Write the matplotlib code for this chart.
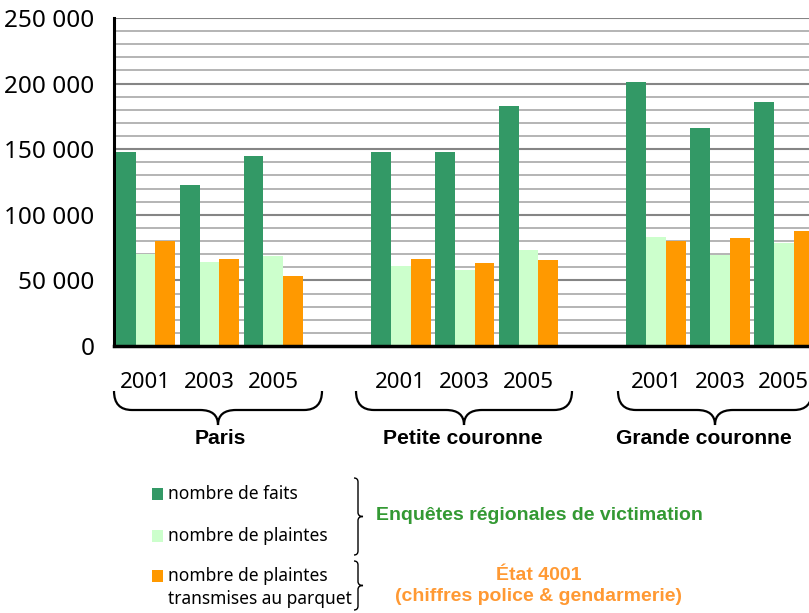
import matplotlib
matplotlib.use("Agg")
import matplotlib.pyplot as plt
from matplotlib.path import Path
from matplotlib.patches import PathPatch, Rectangle
from matplotlib.ticker import FuncFormatter, MultipleLocator
from matplotlib import transforms

# data
regions = ["Paris", "Petite couronne", "Grande couronne"]
years = ["2001", "2003", "2005"]
series = ["nombre de faits", "nombre de plaintes",
          "nombre de plaintes\ntransmises au parquet"]
colors = ["#339966", "#CCFFCC", "#FF9900"]
faits = [148000, 123000, 144500, 148000, 148000, 183000, 201500, 166500, 186000]
plaintes = [70000, 64000, 68500, 61000, 58000, 73000, 83000, 69500, 78500]
parquet = [80000, 66000, 53500, 66000, 63000, 65500, 80000, 82000, 88000]
values = [faits, plaintes, parquet]

plt.rcParams["font.family"] = ["Noto Sans", "DejaVu Sans"]
BOLD = ["Liberation Sans", "DejaVu Sans"]

fig = plt.figure(figsize=(8.09, 6.13), dpi=100)
ax = fig.add_axes([114 / 809, 1 - 346 / 613, 1 - 114 / 809, 328 / 613])

w = 0.31
slots = [g * 4 + k for g in range(len(regions)) for k in range(len(years))]
for s, (vals, col) in enumerate(zip(values, colors)):
    xs = [p + w / 2 + s * w for p in slots]
    ax.bar(xs, vals, width=w, color=col, zorder=3, linewidth=0)

ax.set_xlim(-0.03, 10.86)
ax.set_ylim(0, 250000)
ax.yaxis.set_major_locator(MultipleLocator(50000))
ax.yaxis.set_minor_locator(MultipleLocator(10000))
ax.yaxis.set_major_formatter(FuncFormatter(lambda v, _: f"{int(v):,}".replace(",", " ")))
ax.grid(axis="y", which="minor", color="#a8a8a8", lw=1.2, zorder=0)
ax.grid(axis="y", which="major", color="#858585", lw=1.5, zorder=0)
ax.set_xticks([])
ax.tick_params(axis="y", which="both", length=0, pad=14, labelsize=17.5)
for side in ["top", "right"]:
    ax.spines[side].set_visible(False)
ax.spines["left"].set_linewidth(2.2)
ax.spines["bottom"].set_linewidth(2.5)
ax.spines["bottom"].set_zorder(4)

# overlay in pixel coords for labels, braces and legend
ov = fig.add_axes([0, 0, 1, 1])
ov.set_xlim(0, 809)
ov.set_ylim(613, 0)
ov.axis("off")

blend = transforms.blended_transform_factory(ax.transData, ov.transData)
for i, p in enumerate(slots):
    ov.text(p + 1.5 * w, 383, years[i % 3], transform=blend, ha="center",
            va="center", fontsize=16, clip_on=False)


def hbrace(x0, x1, ytop, yflat, ytip, r=18):
    xm = (x0 + x1) / 2
    verts = [(x0, ytop), (x0, yflat), (x0 + r, yflat),
             (xm - r, yflat), (xm, yflat), (xm, ytip),
             (xm, yflat), (xm + r, yflat),
             (x1 - r, yflat), (x1, yflat), (x1, ytop)]
    codes = [Path.MOVETO, Path.CURVE3, Path.CURVE3,
             Path.LINETO, Path.CURVE3, Path.CURVE3,
             Path.CURVE3, Path.CURVE3,
             Path.LINETO, Path.CURVE3, Path.CURVE3]
    ov.add_patch(PathPatch(Path(verts, codes), fill=False, lw=1.6, ec="black"))


def vbrace(x, y0, y1, r=4, d=5):
    ym = (y0 + y1) / 2
    verts = [(x - r, y0), (x, y0), (x, y0 + r),
             (x, ym - r), (x, ym), (x + d, ym),
             (x, ym), (x, ym + r),
             (x, y1 - r), (x, y1), (x - r, y1)]
    codes = [Path.MOVETO, Path.CURVE3, Path.CURVE3,
             Path.LINETO, Path.CURVE3, Path.CURVE3,
             Path.CURVE3, Path.CURVE3,
             Path.LINETO, Path.CURVE3, Path.CURVE3]
    ov.add_patch(PathPatch(Path(verts, codes), fill=False, lw=1.0, ec="black"))


brace_x = [(114, 322), (356, 572), (618, 812)]
label_x = [220, 463, 704]
for name, (x0, x1), lx in zip(regions, brace_x, label_x):
    hbrace(x0, x1, 391, 410, 425)
    ov.text(lx, 439, name, ha="center", va="center", fontsize=15.2,
            fontweight="bold", family=BOLD)

# legend
leg_y = [494, 536, 576]
for col, lab, y in zip(colors, series, leg_y):
    ov.add_patch(Rectangle((152, y - 6), 11, 12, color=col, lw=0))
    ov.text(168, y - 9, lab, ha="left", va="top", fontsize=12.5,
            linespacing=1.35)

vbrace(358, 478, 555)
vbrace(358, 561, 610)
ov.text(539, 516, "Enquêtes régionales de victimation", ha="center",
        va="center", fontsize=14, fontweight="bold", color="#339933",
        family=BOLD)
ov.text(539, 586, "État 4001\n(chiffres police & gendarmerie)", ha="center",
        va="center", fontsize=14, fontweight="bold", color="#FF9933",
        linespacing=1.25, family=BOLD)

fig.savefig("out.png", dpi=100)
